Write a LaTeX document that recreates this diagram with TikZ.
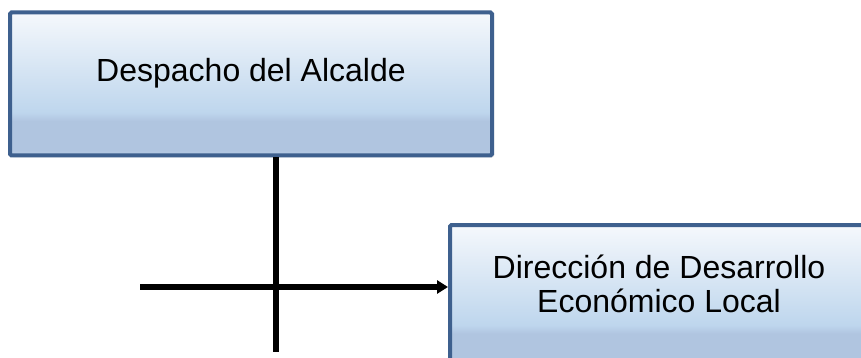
\documentclass[tikz,border=0pt]{standalone}
\usepackage{fontspec}
\setmainfont{Liberation Sans}
\usepackage{xcolor}
\usepackage{tikz}
\usetikzlibrary{arrows.meta, positioning, calc, shadows}
\definecolor{myborder}{RGB}{62,96,142}
\definecolor{mytop}{RGB}{245,248,252}
\definecolor{mymid}{RGB}{190,214,237}
\definecolor{myband}{RGB}{176,197,224}
\definecolor{mylow}{RGB}{184,204,230}
\pgfdeclareverticalshading{boxshade}{100bp}{color(0bp)=(mylow); color(25bp)=(mylow);
  color(27bp)=(myband); color(37bp)=(myband); color(40bp)=(mymid); color(75bp)=(mytop); color(100bp)=(mytop)}
\tikzset{
  orgbox/.style={rectangle, draw=myborder, shading=boxshade,
    line width=4pt, rounded corners=1.5pt,
    drop shadow={opacity=0.18, shadow xshift=2pt, shadow yshift=-2pt}},
  boxtext/.style={align=center, font=\fontsize{32}{34}\selectfont},
  link/.style={line width=5.5pt, color=black},
  arrow/.style={-{Triangle[length=11pt, width=13pt]}, line width=5.5pt, color=black}
}
\begin{document}
\begin{tikzpicture}[x=1pt, y=-1pt]
  \useasboundingbox (0,0) rectangle (861,358);

  % Alcalde
  \node[orgbox, minimum width=482pt, minimum height=143pt] (alc) at (251,84) {};
  \node[boxtext] (alctxt) at ($(alc.center)+(0,-11)$) {Despacho del Alcalde};

  % Desarrollo Economico
  \node[orgbox, minimum width=422pt, minimum height=143pt, anchor=north west] (dir) at (448,223) {};
  \node[boxtext] (dirtxt) at (659,284) {Dirección de Desarrollo\\Económico Local};

  % Lines
  \coordinate (vend) at (276,352);
  \coordinate (hstart) at (140,287);
  \draw[link] (alc.south -| vend) -- (vend);
  \draw[arrow] (hstart) -- (hstart -| dir.west);
\end{tikzpicture}
\end{document}
